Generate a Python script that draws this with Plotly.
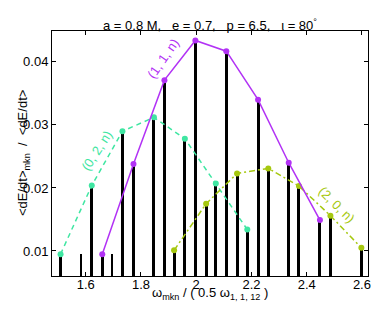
import plotly.graph_objects as go

# (1,1,n) series
x_11n = [1.660, 1.773, 1.885, 1.997, 2.109, 2.224, 2.335, 2.448]
y_11n = [0.0095, 0.0238, 0.0371, 0.0434, 0.0417, 0.0340, 0.0240, 0.0149]
# (0,2,n) series
x_02n = [1.509, 1.622, 1.733, 1.847, 1.959, 2.071, 2.185]
y_02n = [0.0095, 0.0204, 0.0290, 0.0312, 0.0278, 0.0207, 0.0134]
# (2,0,n) series
x_20n = [1.920, 2.036, 2.148, 2.261, 2.372, 2.486, 2.598]
y_20n = [0.0101, 0.0175, 0.0223, 0.0231, 0.0203, 0.0156, 0.0105]
# minor (thin) modes
x_thin = [1.582, 1.696]
y_thin = [0.0095, 0.0095]

purple = "#b232f5"
green = "#3fe6a2"
ygreen = "#a6c80f"
font = "Liberation Sans, Arial, sans-serif"

fig = go.Figure()

all_x = x_11n + x_02n + x_20n
all_y = y_11n + y_02n + y_20n
fig.add_trace(go.Bar(x=all_x, y=all_y, width=0.011, marker=dict(color="black", line=dict(width=0)),
                     showlegend=False))
fig.add_trace(go.Bar(x=x_thin, y=y_thin, width=0.004, marker=dict(color="black", line=dict(width=0)),
                     showlegend=False))

fig.add_trace(go.Scatter(x=x_02n, y=y_02n, mode="lines+markers",
                         line=dict(color=green, width=1.5, dash="5px,4px"),
                         marker=dict(color=green, size=6), showlegend=False))
fig.add_trace(go.Scatter(x=x_20n, y=y_20n, mode="lines+markers",
                         line=dict(color=ygreen, width=1.5, dash="6px,3px,2px,3px"),
                         marker=dict(color=ygreen, size=6), showlegend=False))
fig.add_trace(go.Scatter(x=x_11n, y=y_11n, mode="lines+markers",
                         line=dict(color=purple, width=1.5),
                         marker=dict(color=purple, size=6), showlegend=False))

axis_common = dict(showgrid=False, zeroline=False, showline=True, linecolor="black", linewidth=1,
                   mirror="ticks", ticks="inside", ticklen=4, tickcolor="black",
                   tickfont=dict(family=font, size=13, color="black"))

gap = "\u00a0\u00a0\u00a0"
title_text = f"a = 0.8 M,{gap}e = 0.7,{gap}p = 6.5,{gap}ι = 80<sup>°</sup>"

fig.update_layout(
    width=381, height=310,
    margin=dict(l=52, r=10, t=31, b=34),
    plot_bgcolor="white", paper_bgcolor="white",
    barmode="overlay", bargap=0,
    xaxis=dict(range=[1.478, 2.622], tickvals=[1.6, 1.8, 2.0, 2.2, 2.4, 2.6],
               ticktext=["1.6", "1.8", "2", "2.2", "2.4", "2.6"], ticklabelstandoff=-4,
               **axis_common),
    yaxis=dict(range=[0.00603, 0.0449], tickvals=[0.01, 0.02, 0.03, 0.04],
               ticktext=["0.01", "0.02", "0.03", "0.04"], **axis_common),
    annotations=[
        dict(text=title_text, xref="paper", yref="paper",
             x=0.5, y=1.0, yshift=16, showarrow=False, font=dict(family=font, size=13, color="black")),
        dict(text="ω<sub>mkn</sub> / ( 0.5 ω<sub>1, 1, 12</sub> )", xref="paper", yref="paper",
             x=0.5, y=0, yshift=-28, showarrow=False, font=dict(family=font, size=13, color="black")),
        dict(text="<dE/dt><sub>mkn</sub>  /  <dE/dt>", xref="paper", yref="paper",
             x=0, y=0.5, xshift=-39, textangle=-90, showarrow=False,
             font=dict(family=font, size=13, color="black")),
        dict(text="(1, 1, n)", x=1.881, y=0.0405, textangle=-55, showarrow=False,
             font=dict(family=font, size=13, color=purple)),
        dict(text="(0, 2, n)", x=1.640, y=0.0260, textangle=-57, showarrow=False,
             font=dict(family=font, size=13, color=green)),
        dict(text="(2, 0, n)", x=2.507, y=0.0173, textangle=45, showarrow=False,
             font=dict(family=font, size=13, color=ygreen)),
    ],
)

fig.write_html("out.html", config={"displayModeBar": False},
               post_script="document.body.style.margin='0';")
